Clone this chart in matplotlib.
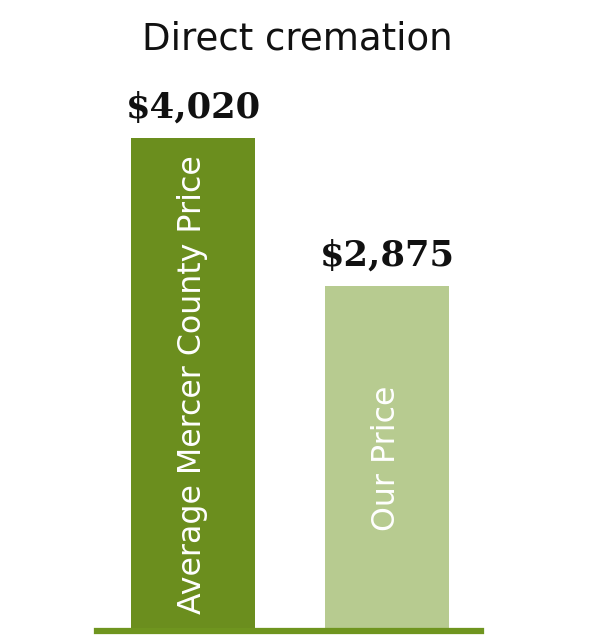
import matplotlib
matplotlib.use("Agg")
import matplotlib.pyplot as plt

# data
categories = ["Average Mercer County Price", "Our Price"]
prices = [4020, 2875]
value_labels = ["$4,020", "$2,875"]
bar_colors = ["#6b8e1e", "#b7cb90"]
title = "Direct cremation"

W, H = 600, 638
fig = plt.figure(figsize=(W / 100, H / 100), dpi=100)

# axes placed in pixel terms: baseline at y=631 from the top
ax_left, ax_right = 97, 481
ax_bottom, ax_top = 631, 0
ax = fig.add_axes([ax_left / W, (H - ax_bottom) / H,
                   (ax_right - ax_left) / W, (ax_bottom - ax_top) / H])

x = range(len(categories))
ax.bar(x, prices, width=0.64, color=bar_colors, bottom=0, zorder=1)

# the picture does not start at zero, so keep its scale
y_low = 206
y_high = y_low + (ax_bottom - ax_top) / 0.12926
ax.set_ylim(y_low, y_high)
ax.set_xlim(-0.495, 1.485)

for xi, cat, val, lab in zip(x, categories, prices, value_labels):
    ax.annotate(lab, (xi, val), xytext=(0, 15), textcoords="offset points",
                ha="center", va="baseline", fontsize=25.5, fontweight="bold",
                family="DejaVu Serif", color="#111111")
    ax.text(xi, (y_low + val) / 2, cat, rotation=90, ha="center", va="center",
            fontsize=22.8, color="white", family="DejaVu Sans")

for s in ["top", "left", "right"]:
    ax.spines[s].set_visible(False)
ax.spines["bottom"].set_color("#6f951f")
ax.spines["bottom"].set_linewidth(4.5)
ax.set_xticks([])
ax.set_yticks([])
ax.patch.set_alpha(0)

fig.text(297 / W, 1 - 39 / H, title, ha="center", va="center",
         fontsize=26.7, family="DejaVu Sans", color="#111111")

fig.savefig("out.png", dpi=100)
